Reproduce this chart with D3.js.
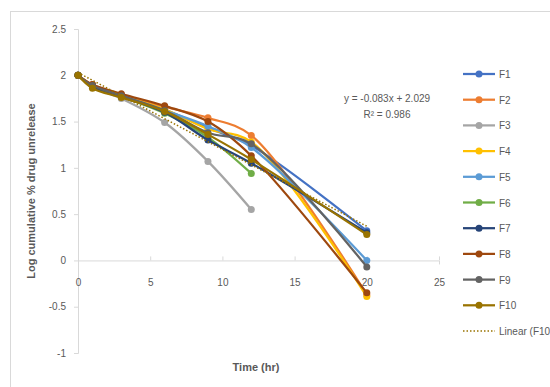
<!DOCTYPE html>
<html>
<head>
<meta charset="utf-8">
<script src="https://cdn.jsdelivr.net/npm/d3@7"></script>
<style>
  body { margin: 0; background: #fff; }
  svg text { font-family: "Liberation Sans Narrow", "Liberation Sans", Arial, sans-serif; fill: #595959; }
</style>
</head>
<body>
<svg width="550" height="387"></svg>
<script>
const times = [0, 1, 3, 6, 9, 12, 20];
const seriesNames = ['F1', 'F2', 'F3', 'F4', 'F5', 'F6', 'F7', 'F8', 'F9', 'F10'];
const F1 = [2, 1.89, 1.79, 1.63, 1.43, 1.24, 0.32];
const F2 = [2, 1.90, 1.79, 1.66, 1.54, 1.35, -0.37];
const F3 = [2, 1.88, 1.75, 1.49, 1.07, 0.55];
const F4 = [2, 1.89, 1.78, 1.63, 1.42, 1.28, -0.39];
const F5 = [2, 1.89, 1.78, 1.62, 1.45, 1.22, 0.00];
const F6 = [2, 1.88, 1.77, 1.59, 1.33, 0.94];
const F7 = [2, 1.88, 1.77, 1.60, 1.30, 1.05, 0.30];
const F8 = [2, 1.90, 1.80, 1.67, 1.50, 1.13, -0.35];
const F9 = [2, 1.89, 1.78, 1.62, 1.38, 1.26, -0.07];
const F10 = [2, 1.86, 1.76, 1.61, 1.36, 1.09, 0.28];
const colors = ['#4472C4', '#ED7D31', '#A5A5A5', '#FFC000', '#5B9BD5', '#70AD47', '#264478', '#9E480E', '#636363', '#997300'];
const xTicks = [0, 5, 10, 15, 20, 25];
const yTicks = [-1, -0.5, 0, 0.5, 1, 1.5, 2, 2.5];
// trendline of F10
const slope = -0.083, intercept = 2.029;
const trendText = ['y = -0.083x + 2.029', 'R² = 0.986'];

const values = [F1, F2, F3, F4, F5, F6, F7, F8, F9, F10];
const series = seriesNames.map((name, i) => ({
  name, color: colors[i],
  points: values[i].map((v, j) => ({ t: times[j], v }))
}));

const svg = d3.select('svg');

// outer frame
svg.append('rect').attr('x', 10.5).attr('y', 11.5).attr('width', 560).attr('height', 400)
  .attr('fill', 'none').attr('stroke', '#d9d9d9');

const x = d3.scaleLinear().domain([0, 25]).range([78, 439]);
const y = d3.scaleLinear().domain([-1, 2.5]).range([353, 29]);

// y axis
const yAxisG = svg.append('g').attr('transform', `translate(${x(0)},0)`)
  .call(d3.axisLeft(y).tickValues(yTicks).tickSize(4).tickPadding(8).tickFormat(d => String(d)));
yAxisG.selectAll('.domain, .tick line').attr('stroke', '#d9d9d9');
yAxisG.selectAll('text').attr('font-size', 10);

// x axis at y = 0
const xAxisG = svg.append('g').attr('transform', `translate(0,${y(0)})`)
  .call(d3.axisBottom(x).tickValues(xTicks).tickSize(4).tickPadding(14).tickFormat(d => String(d)));
xAxisG.selectAll('.domain, .tick line').attr('stroke', '#d9d9d9');
xAxisG.selectAll('.tick line').attr('y1', -4).attr('y2', 0);
xAxisG.selectAll('text').attr('font-size', 10);

// series
const line = d3.line().x(d => x(d.t)).y(d => y(d.v)).curve(d3.curveCatmullRom);
series.forEach(s => {
  svg.append('path').datum(s.points).attr('d', line)
    .attr('fill', 'none').attr('stroke', s.color).attr('stroke-width', 2.25);
  svg.append('g').selectAll('circle').data(s.points).enter().append('circle')
    .attr('cx', d => x(d.t)).attr('cy', d => y(d.v)).attr('r', 3.5)
    .attr('fill', s.color);
});

// linear trendline F10
const trendX = [0, 20];
svg.append('path')
  .datum(trendX.map(t => ({ t, v: slope * t + intercept })))
  .attr('d', d3.line().x(d => x(d.t)).y(d => y(d.v)))
  .attr('fill', 'none').attr('stroke', '#997300').attr('stroke-width', 1.5)
  .attr('stroke-dasharray', '1.5,2');

svg.selectAll('.trend-label').data(trendText).enter().append('text')
  .attr('x', 387).attr('y', (d, i) => 102 + i * 16)
  .attr('text-anchor', 'middle').attr('font-size', 10).text(d => d);

// axis titles
svg.append('text').attr('transform', `translate(35,${y(0.75)}) rotate(-90)`)
  .attr('text-anchor', 'middle').attr('font-size', 11).attr('font-weight', 'bold')
  .text('Log cumulative % drug unrelease');
svg.append('text').attr('x', 256).attr('y', 371)
  .attr('text-anchor', 'middle').attr('font-size', 11).attr('font-weight', 'bold')
  .text('Time (hr)');

// legend
const legendItems = series.map(s => ({ name: s.name, color: s.color, dotted: false }))
  .concat([{ name: 'Linear (F10)', color: '#997300', dotted: true }]);
const lg = svg.append('g').selectAll('g').data(legendItems).enter().append('g')
  .attr('transform', (d, i) => `translate(463,${74 + i * 25.7})`);
lg.append('line').attr('x1', 0).attr('x2', 32)
  .attr('stroke', d => d.color)
  .attr('stroke-width', d => d.dotted ? 1.5 : 2.25)
  .attr('stroke-dasharray', d => d.dotted ? '1.5,2' : null);
lg.filter(d => !d.dotted).append('circle').attr('cx', 16).attr('r', 3.5).attr('fill', d => d.color);
lg.append('text').attr('x', 36).attr('y', 4).attr('font-size', 10).text(d => d.name);
</script>
</body>
</html>
